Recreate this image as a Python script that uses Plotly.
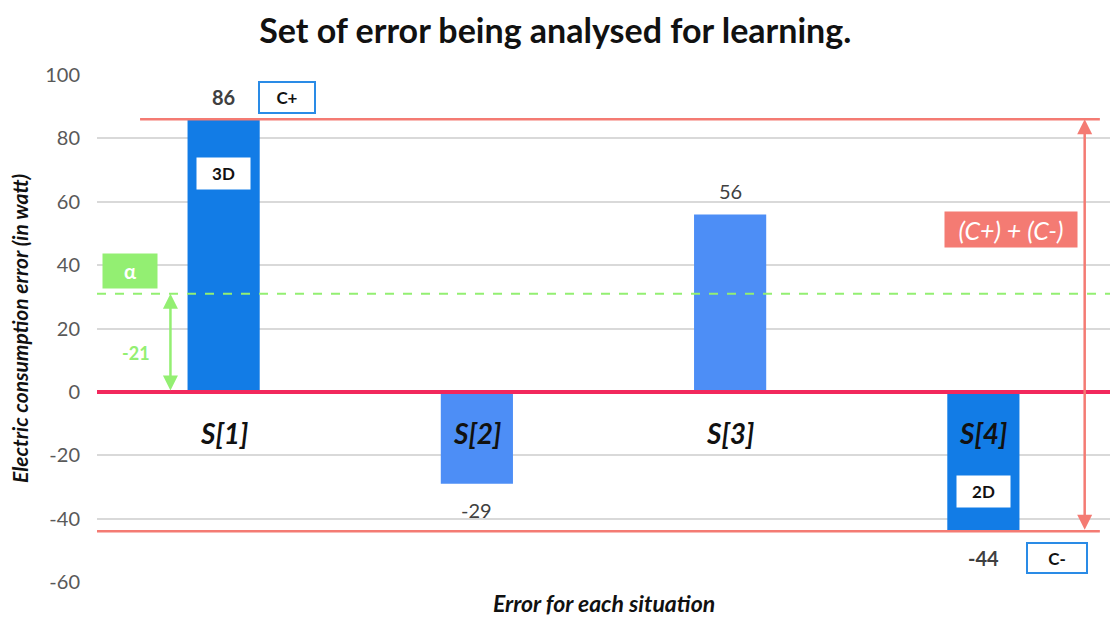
import plotly.graph_objects as go

categories = ["S[1]", "S[2]", "S[3]", "S[4]"]
values = [86, -29, 56, -44]
bar_colors = ["#127ce6", "#4d8ef6", "#4d8ef6", "#127ce6"]
label_bold = [True, False, False, True]
box_labels = {0: ("3D", 69), 3: ("2D", -31.5)}
alpha_level = 31
alpha_text = "-21"
y_ticks = [-60, -40, -20, 0, 20, 40, 60, 80, 100]
y_tick_text = [str(v) for v in y_ticks]

FONT = "Lato, 'Open Sans', sans-serif"
c_plus = max(values)
c_minus = min(values)
xs = list(range(len(categories)))

fig = go.Figure()
fig.add_trace(go.Bar(x=xs, y=values, width=0.285, marker=dict(color=bar_colors, line=dict(width=0)),
                     showlegend=False, hoverinfo="skip"))

ann = []
for i, c in enumerate(categories):
    ann.append(dict(x=i, y=-13, text=f"<b><i>{c}</i></b>", showarrow=False,
                    font=dict(size=28, color="#111111", family=FONT), xref="x", yref="y"))
label_y = {0: 93, 1: -37.3, 2: 63.4, 3: -52.3}
for i, v in enumerate(values):
    t = f"<b>{v}</b>" if label_bold[i] else f"{v}"
    ann.append(dict(x=i, y=label_y[i], text=t, showarrow=False,
                    font=dict(size=20, color="#404040", family=FONT)))
for i, (t, yy) in box_labels.items():
    ann.append(dict(x=i, y=yy, text=f"<b>{t}</b>", showarrow=False, bgcolor="white",
                    width=47, height=25, borderpad=3, font=dict(size=17, color="#111", family=FONT)))
ann.append(dict(x=0.251, y=93, text="<b>C+</b>", showarrow=False, bgcolor="white",
                bordercolor="#2a8be6", borderwidth=2, width=48, height=23, borderpad=3,
                font=dict(size=17, color="#111", family=FONT)))
ann.append(dict(x=3.29, y=-52.4, text="<b>C-</b>", showarrow=False, bgcolor="white",
                bordercolor="#2a8be6", borderwidth=2, width=52, height=22, borderpad=3,
                font=dict(size=17, color="#111", family=FONT)))
ann.append(dict(x=-0.37, y=38.2, text="<b>α</b>", showarrow=False, bgcolor="#93ef72",
                width=48, height=28, borderpad=3, font=dict(size=20, color="white", family=FONT)))
ann.append(dict(x=-0.345, y=12.3, text=f"<b>{alpha_text}</b>", showarrow=False,
                font=dict(size=18, color="#93ef72", family=FONT)))
ann.append(dict(x=3.11, y=51.1, text="<i>(C+) + (C-)</i>", showarrow=False, bgcolor="#f47b73",
                width=126, height=29, borderpad=3, font=dict(size=25, color="white", family=FONT)))
ann.append(dict(x=3.40, y=c_plus, ax=3.40, ay=c_minus, xref="x", yref="y", axref="x", ayref="y",
                showarrow=True, arrowhead=2, arrowside="end+start", arrowsize=1.2, arrowwidth=2.5,
                arrowcolor="#f47b73", text=""))
ann.append(dict(x=-0.21, y=alpha_level, ax=-0.21, ay=0, xref="x", yref="y", axref="x", ayref="y",
                showarrow=True, arrowhead=2, arrowside="end+start", arrowsize=1.2, arrowwidth=2.5,
                arrowcolor="#93ef72", text=""))
ann.append(dict(x=0.5, y=-0.041, xref="paper", yref="paper", text="<b><i>Error for each situation</i></b>",
                showarrow=False, font=dict(size=23, color="#111", family=FONT), yanchor="middle"))
ann.append(dict(x=-0.0765, y=0.5, xref="paper", yref="paper",
                text="<b><i>Electric consumption error (in watt)</i></b>", textangle=-90,
                showarrow=False, font=dict(size=21, color="#111", family=FONT), xanchor="center"))

shapes = [
    dict(type="line", xref="x", yref="y", x0=-0.33, x1=3.46, y0=c_plus, y1=c_plus,
         line=dict(color="#f47b73", width=2.5), layer="above"),
    dict(type="line", xref="x", yref="y", x0=-0.5, x1=3.46, y0=c_minus, y1=c_minus,
         line=dict(color="#f47b73", width=2.5), layer="above"),
    dict(type="line", xref="x", yref="y", x0=-0.5, x1=3.53, y0=alpha_level, y1=alpha_level,
         line=dict(color="#93ef72", width=2, dash="dash"), layer="above"),
    dict(type="line", xref="x", yref="y", x0=-0.5, x1=3.5, y0=0, y1=0,
         line=dict(color="#f2285c", width=4), layer="above"),
]

fig.update_layout(
    width=1110, height=609,
    margin=dict(l=89, r=8, t=67, b=35),
    paper_bgcolor="white", plot_bgcolor="white",
    title=dict(text="<b>Set of error being analysed for learning.</b>", x=0.493, xanchor="center",
               y=0.962, yanchor="middle", font=dict(size=34, color="#111", family=FONT)),
    xaxis=dict(range=[-0.5, 3.5], showticklabels=False, showgrid=False, zeroline=False, showline=False,
               fixedrange=True),
    yaxis=dict(range=[-60, 100], tickvals=y_ticks, ticktext=y_tick_text, showgrid=True,
               gridcolor="#d9d9d9", gridwidth=1.5, zeroline=False, showline=False, ticks="",
               ticklabelstandoff=16, tickfont=dict(size=20, color="#595959", family=FONT)),
    annotations=ann, shapes=shapes, bargap=0.7,
)
fig.write_html("out.html")
